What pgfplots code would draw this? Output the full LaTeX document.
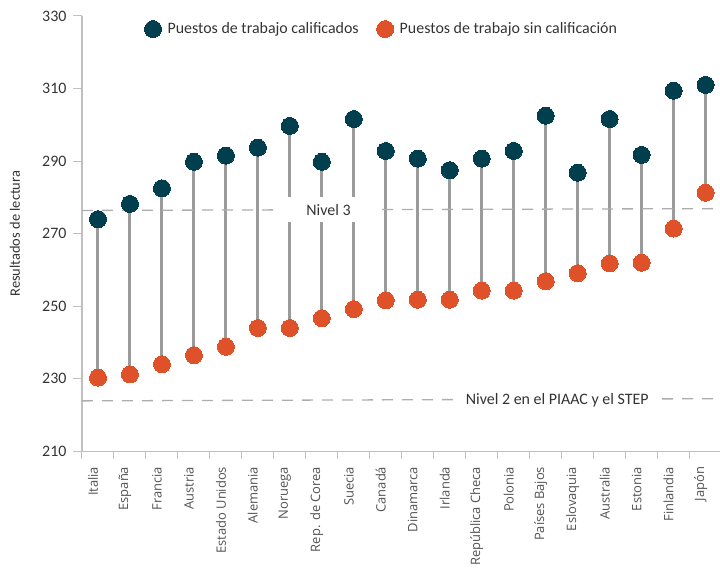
\documentclass[border=0pt]{standalone}
\usepackage{fontspec}
\setmainfont{Carlito}
\newfontfamily\xlabfont{Open Sans}
\usepackage{pgfplots}
\usepackage{pgfplotstable}
\pgfplotsset{compat=1.18}
\definecolor{teal}{HTML}{023F4E}
\definecolor{orng}{HTML}{DF5128}
\definecolor{stemgray}{HTML}{9B9B9B}
\definecolor{dashgray}{HTML}{ADADAD}
\definecolor{axgray}{HTML}{C0C0C0}
\definecolor{txt}{HTML}{333333}
\pgfplotstableread{
x low high
0 230.3 274.0
1 231.2 278.2
2 234.0 282.5
3 236.5 289.8
4 238.8 291.5
5 244.0 293.7
6 244.0 299.7
7 246.7 289.8
8 249.2 301.6
9 251.6 292.8
10 251.8 290.7
11 251.8 287.5
12 254.3 290.7
13 254.3 292.8
14 256.9 302.5
15 259.1 286.8
16 261.8 301.6
17 262.0 291.7
18 271.4 309.4
19 281.3 311.0
}\data
\begin{document}
\begin{tikzpicture}
\begin{axis}[
  scale only axis,
  width=638bp, height=435.3bp,
  xmin=-0.5, xmax=19.45,
  ymin=210, ymax=330,
  ytick={210,230,...,330},
  xtick={0,...,19},
  xticklabels={Italia,España,Francia,Austria,Estado Unidos,Alemania,Noruega,Rep. de Corea,Suecia,Canadá,Dinamarca,Irlanda,República Checa,Polonia,Países Bajos,Eslovaquia,Australia,Estonia,Finlandia,Japón},
  minor xtick={-0.5,0.5,...,19.5},
  axis x line=bottom, axis y line=left,
  axis line style={axgray, line width=1.4bp, -},
  tick align=outside,
  major tick length=9bp,
  minor tick length=8bp,
  x tick style={draw=none},
  minor x tick style={draw=axgray, line width=1bp},
  y tick style={draw=axgray, line width=1bp},
  /pgf/number format/assume math mode=true,
  yticklabel style={font=\fontsize{16}{18}\selectfont, text=txt, xshift=-3bp},
  xticklabel style={font=\xlabfont\fontsize{13}{15}\selectfont, text=txt!85, rotate=90, anchor=east, xshift=-3bp, yshift=5bp},
  ylabel={Resultados de lectura},
  ylabel style={font=\fontsize{14.5}{16}\selectfont, text=txt, at={(axis description cs:-0.105,0.5)}, anchor=center},
  legend columns=2,
  legend style={at={(0.093,0.97)}, anchor=west, draw=none, fill=none,
    font=\fontsize{16}{18}\selectfont, text=txt,
    /tikz/every odd column/.append style={column sep=4bp},
    /tikz/every even column/.append style={column sep=16bp}},
  clip=false,
]
% stems
\addplot[draw=none, mark=none, forget plot,
  error bars/.cd, y dir=plus, y explicit, error mark=none,
  error bar style={line width=3bp, stemgray}]
  table[x=x, y=low, y error expr=\thisrow{high}-\thisrow{low}] {\data};
% reference lines
\addplot[dashgray, line width=1.3bp, dash pattern=on 11bp off 9bp, forget plot] coordinates {(-0.5,276.4) (19.45,276.9)};
\addplot[dashgray, line width=1.3bp, dash pattern=on 11bp off 9bp, forget plot] coordinates {(-0.5,223.9) (19.45,224.5)};
\node[fill=white, inner sep=0pt, minimum width=96bp, minimum height=25bp, font=\fontsize{16}{18}\selectfont, text=txt] at (axis cs:7.21,276.6) {Nivel 3};
\node[fill=white, inner sep=0pt, minimum width=203bp, minimum height=20bp, font=\fontsize{16}{18}\selectfont, text=txt] at (axis cs:14.36,224.2) {Nivel 2 en el PIAAC y el STEP};
% markers
\addplot[teal, only marks, mark=*, mark size=8.5bp, mark options={draw=teal, fill=teal, line width=0pt}] table[x=x, y=high] {\data};
\addlegendentry{Puestos de trabajo calificados}
\addplot[orng, only marks, mark=*, mark size=8.5bp, mark options={draw=orng, fill=orng, line width=0pt}] table[x=x, y=low] {\data};
\addlegendentry{Puestos de trabajo sin calificación}
\end{axis}
\pgfresetboundingbox
\path[use as bounding box] (-82bp,-116.7bp) rectangle (638bp,451.3bp);
\end{tikzpicture}
\end{document}
